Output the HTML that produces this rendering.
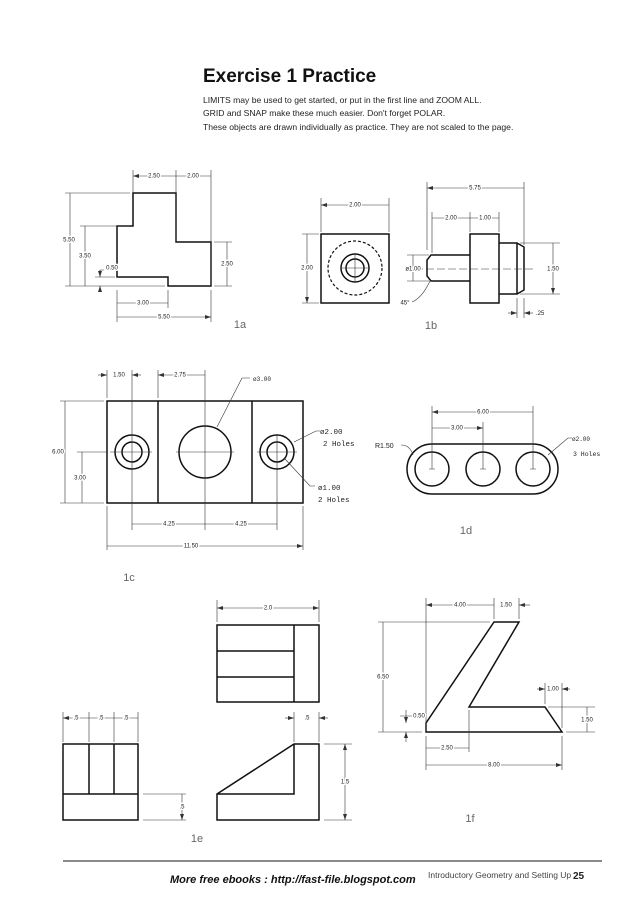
<!DOCTYPE html>
<html><head><meta charset="utf-8"><style>
html,body{margin:0;padding:0;background:#fff}
svg{display:block}
.o{fill:none;stroke:#111;stroke-width:1.5}
.t{fill:none;stroke:#333;stroke-width:0.6}
.d{fill:none;stroke:#333;stroke-width:0.6;marker-start:url(#a);marker-end:url(#a)}
.e{fill:none;stroke:#333;stroke-width:0.6;marker-end:url(#a)}
.x{font-family:"Liberation Sans",sans-serif;font-size:6px;fill:#222;text-anchor:middle;stroke:#fff;stroke-width:3;paint-order:stroke;dominant-baseline:middle}
.m{font-family:"Liberation Mono",monospace;font-size:7.5px;fill:#222}
.lb{font-family:"Liberation Sans",sans-serif;font-size:11px;fill:#666;text-anchor:middle}
</style></head><body>
<svg width="638" height="903" viewBox="0 0 638 903" xmlns="http://www.w3.org/2000/svg">
<defs><marker id="a" viewBox="0 0 6 4" refX="6" refY="2" markerWidth="6" markerHeight="4" orient="auto-start-reverse" markerUnits="userSpaceOnUse"><path d="M0,0 L6,2 L0,4z" fill="#333"/></marker></defs>

<text x="203" y="82" font-family="Liberation Sans,sans-serif" font-size="19" font-weight="bold" fill="#111">Exercise 1  Practice</text>
<g font-family="Liberation Sans,sans-serif" font-size="8.6" fill="#222">
<text x="203" y="103">LIMITS may be used to get started, or put in the first line and ZOOM ALL.</text>
<text x="203" y="116">GRID and SNAP make these much easier. Don't forget POLAR.</text>
<text x="203" y="130">These objects are drawn individually as practice. They are not scaled to the page.</text>
</g>

<!-- 1a -->
<path class="o" d="M133,193 H176 V242 H211 V286 H168 V277 H117 V226 H133 Z"/>
<path class="t" d="M133,170 V193 M176,170 V242 M211,170 V286 M65,193 H130 M65,286 H165 M80,226 H130 M214,242 H232 M214,286 H232 M117,290 V322 M168,290 V308 M211,290 V322"/>
<path class="d" d="M133,176 H176 M176,176 H211 M70,193 V286 M85,226 V286 M227,242 V286 M117,303 H168 M117,317 H211"/>
<path class="t" d="M100,270 V277 M100,286 V292 M100,270 H104 M95,277 H115"/>
<path class="e" d="M100,270 V277"/><path class="e" d="M100,292 V286"/>
<g class="x"><text x="154" y="176">2.50</text><text x="193" y="176">2.00</text><text x="69" y="240">5.50</text><text x="85" y="256">3.50</text><text x="227" y="264">2.50</text><text x="112" y="268">0.50</text><text x="143" y="303">3.00</text><text x="164" y="317">5.50</text></g>
<text class="lb" x="240" y="328">1a</text>

<!-- 1b -->
<rect class="o" x="321" y="234" width="68" height="69"/>
<circle cx="355" cy="268" r="27" fill="none" stroke="#111" stroke-width="1.2" stroke-dasharray="3,2"/>
<circle class="o" cx="355" cy="268" r="14"/><circle class="o" cx="355" cy="268" r="9"/>
<path class="t" d="M355,255 V281 M342,268 H368 M321,198 V232 M389,198 V232 M302,234 H319 M302,303 H319"/>
<path class="d" d="M321,205 H389 M307,234 V303"/>
<path class="o" d="M470,255 H431 L427,260 V276 L431,281 H470 M470,234 H499 V303 H470 Z M499,243 H517 L524,247 V290 L517,294 H499 M517,243 V294"/>
<path class="t" d="M415,269 H535" stroke-dasharray="8,3"/>
<path class="t" d="M427,182 V250 M524,182 V245 M432,212 V253 M470,212 V232 M499,212 V232 M407,255 H429 M407,281 H429 M520,243 H560 M520,294 H560 M517,298 V318 M524,298 V318"/>
<path class="d" d="M427,188 H524 M432,218 H470 M470,218 H499 M413,255 V281 M553,243 V294"/>
<path class="e" d="M508,313 H517"/><path class="e" d="M533,313 H524"/>
<path class="t" d="M412,302 Q422,298 430,281"/>
<g class="x"><text x="355" y="205">2.00</text><text x="307" y="268">2.00</text><text x="475" y="188">5.75</text><text x="451" y="218">2.00</text><text x="485" y="218">1.00</text><text x="413" y="269">ø1.00</text><text x="553" y="269">1.50</text><text x="405" y="303">45°</text></g>
<text x="536" y="315" font-family="Liberation Sans,sans-serif" font-size="6" fill="#222">.25</text>
<text class="lb" x="431" y="329">1b</text>

<!-- 1c -->
<rect class="o" x="107" y="401" width="196" height="102"/>
<path class="o" d="M158,401 V503 M252,401 V503"/>
<circle class="o" cx="132" cy="452" r="17"/><circle class="o" cx="132" cy="452" r="10"/>
<circle class="o" cx="205" cy="452" r="26"/>
<circle class="o" cx="277" cy="452" r="17"/><circle class="o" cx="277" cy="452" r="10"/>
<path class="t" d="M132,370 V530 M205,370 V530 M277,436 V530 M110,452 H152 M176,452 H234 M257,452 H297 M107,370 V398 M158,370 V398 M60,401 H104 M60,503 H104 M77,452 H108 M107,506 V550 M303,506 V550"/>
<path class="e" d="M98,375 H107"/><path class="e" d="M141,375 H132"/>
<path class="d" d="M158,375 H205 M65,401 V503 M82,452 V503 M132,524 H205 M205,524 H277 M107,546 H303"/>
<path class="t" d="M217,427 L242,378 H250 M294,442 L316,431 H320 M285,459 L310,486 H315"/>
<g class="x"><text x="119" y="375">1.50</text><text x="180" y="375">2.75</text><text x="58" y="452">6.00</text><text x="80" y="478">3.00</text><text x="169" y="524">4.25</text><text x="241" y="524">4.25</text><text x="191" y="546">11.50</text></g>
<g class="m"><text x="253" y="381" font-size="6">ø3.00</text><text x="320" y="434">ø2.00</text><text x="323" y="446">2 Holes</text><text x="318" y="490">ø1.00</text><text x="318" y="502">2 Holes</text></g>
<text class="lb" x="129" y="581">1c</text>

<!-- 1d -->
<path class="o" d="M432,444 H533 A25,25 0 0 1 533,494 H432 A25,25 0 0 1 432,444 Z"/>
<circle class="o" cx="432" cy="469" r="17"/><circle class="o" cx="483" cy="469" r="17"/><circle class="o" cx="533" cy="469" r="17"/>
<path class="t" d="M432,406 V469 M483,422 V469 M533,406 V469 M429,469 H435 M480,469 H486 M530,469 H536 M401,445 Q410,445 413,455 M548,455 L568,438 H572"/>
<path class="d" d="M432,412 H533 M432,428 H483"/>
<g class="x"><text x="483" y="412">6.00</text><text x="457" y="428">3.00</text></g>
<text x="375" y="448" font-family="Liberation Sans,sans-serif" font-size="7" fill="#222">R1.50</text>
<g class="m" font-size="6"><text x="572" y="441" font-size="6">ø2.00</text><text x="573" y="456" font-size="6.5">3 Holes</text></g>
<text class="lb" x="466" y="534">1d</text>

<!-- 1e -->
<rect class="o" x="217" y="625" width="102" height="77"/>
<path class="o" d="M294,625 V702 M217,651 H294 M217,677 H294"/>
<path class="t" d="M217,600 V622 M319,600 V622"/><path class="d" d="M217,608 H319"/>
<rect class="o" x="63" y="744" width="75" height="76"/>
<path class="o" d="M89,744 V794 M114,744 V794 M63,794 H138"/>
<path class="t" d="M63,712 V742 M89,712 V742 M114,712 V742 M138,712 V742 M143,794 H186 M143,820 H186"/>
<path class="d" d="M63,718 H89 M89,718 H114 M114,718 H138 M182,794 V820"/>
<path class="o" d="M217,794 L294,744 H319 V820 H217 Z M217,794 H294 V744"/>
<path class="t" d="M294,712 V742 M319,712 V742 M324,744 H352 M324,820 H352"/>
<path class="e" d="M285,718 H294"/><path class="e" d="M328,718 H319"/>
<path class="d" d="M345,744 V820"/>
<g class="x"><text x="268" y="608">2.0</text><text x="76" y="718">.5</text><text x="101" y="718">.5</text><text x="126" y="718">.5</text><text x="182" y="807">.5</text><text x="345" y="782">1.5</text><text x="307" y="718">.5</text></g>
<text class="lb" x="197" y="842">1e</text>

<!-- 1f -->
<path class="o" d="M426,732 V723 L494,622 H519 L469,707 H545 L562,732 Z"/>
<path class="t" d="M426,598 V732 M494,598 V619 M519,598 V619 M378,622 H490 M378,732 H422 M545,683 V704 M562,683 V728 M548,707 H595 M566,732 H595 M469,710 V752 M426,736 V770 M562,736 V770 M400,716 H424"/>
<path class="d" d="M426,605 H494 M383,622 V732 M587,707 V732 M426,748 H469 M426,765 H562"/>
<path class="e" d="M530,605 H519"/><path class="e" d="M537,689 H545"/><path class="e" d="M570,689 H562"/>
<path class="e" d="M406,710 V723"/><path class="e" d="M406,742 V732"/>
<g class="x"><text x="460" y="605">4.00</text><text x="506" y="605">1.50</text><text x="383" y="677">6.50</text><text x="553" y="689">1.00</text><text x="587" y="720">1.50</text><text x="447" y="748">2.50</text><text x="494" y="765">8.00</text><text x="419" y="716">0.50</text></g>
<text class="lb" x="470" y="822">1f</text>

<!-- footer -->
<line x1="63" y1="861" x2="602" y2="861" stroke="#444" stroke-width="1.2"/>
<text x="428" y="878" font-family="Liberation Sans,sans-serif" font-size="8.5" fill="#444">Introductory Geometry and Setting Up</text>
<text x="573" y="879" font-family="Liberation Sans,sans-serif" font-size="10" font-weight="bold" fill="#222">25</text>
<text x="170" y="883" font-family="Liberation Sans,sans-serif" font-size="11" font-weight="bold" font-style="italic" fill="#111">More free ebooks  :  http://fast-file.blogspot.com</text>
</svg>
</body></html>
